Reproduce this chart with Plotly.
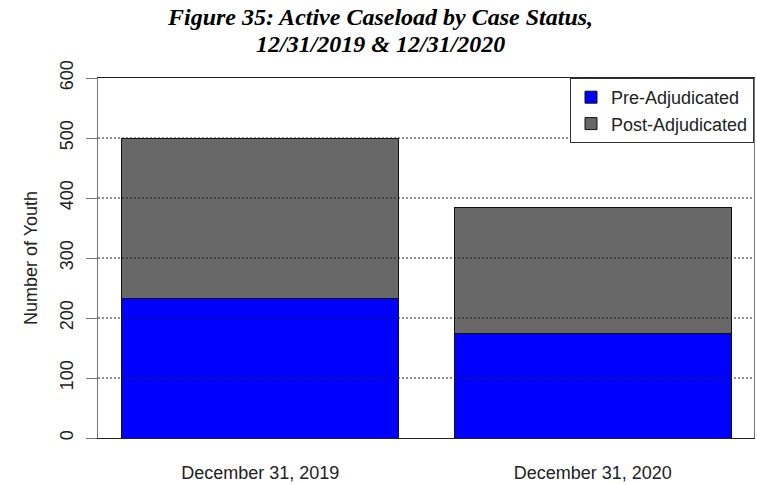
import plotly.graph_objects as go

# Active caseload counts at each year-end
dates = ["December 31, 2019", "December 31, 2020"]
pre_adjudicated = [232, 174]
post_adjudicated = [268, 211]
y_ticks = [0, 100, 200, 300, 400, 500, 600]
title_lines = ["Figure 35: Active Caseload by Case Status,", "12/31/2019 &amp; 12/31/2020"]

x_pos = list(range(len(dates)))
bar_width = 0.832

fig = go.Figure()
fig.add_trace(go.Bar(
    x=x_pos, y=pre_adjudicated, name="Pre-Adjudicated", width=bar_width,
    marker=dict(color="#0000FF", line=dict(color="#111111", width=1)),
))
fig.add_trace(go.Bar(
    x=x_pos, y=post_adjudicated, name="Post-Adjudicated", width=bar_width,
    marker=dict(color="#686868", line=dict(color="#111111", width=1)),
))

# Dotted reference lines drawn on top of the bars
for v in y_ticks[1:-1]:
    fig.add_shape(type="line", xref="paper", yref="y", x0=0, x1=1, y0=v, y1=v,
                  line=dict(color="#222222", width=1, dash="2px,2px"), layer="above")

# Two-line title in a serif bold italic face
for i, line in enumerate(title_lines):
    fig.add_annotation(
        text=line, xref="paper", yref="paper", x=0.43, y=1 + (62 - 28 * i) / 363,
        xanchor="center", yanchor="middle", showarrow=False,
        font=dict(family="Liberation Serif, Times New Roman, serif", size=24,
                  color="black", style="italic", weight="bold"),
    )

fig.update_layout(
    width=757, height=485,
    margin=dict(l=98, r=2, t=78, b=44),
    paper_bgcolor="white", plot_bgcolor="white",
    barmode="stack",
    showlegend=True,
    font=dict(family="Liberation Sans, Arial, sans-serif", size=18, color="#222222"),
    legend=dict(
        x=1, y=1, xanchor="right", yanchor="top",
        bgcolor="white", bordercolor="#333333", borderwidth=1,
        font=dict(size=18, color="#222222"), traceorder="normal",
        tracegroupgap=0, itemwidth=30,
    ),
    xaxis=dict(
        range=[-0.488, 1.485], tickmode="array", tickvals=x_pos, ticktext=dates,
        showgrid=False, zeroline=False, ticks="", showline=True, linecolor="#222222",
        linewidth=1, mirror=True, ticklabelstandoff=18,
        tickfont=dict(size=18, color="#222222"),
    ),
    yaxis=dict(
        range=[0, 600], tickmode="array", tickvals=y_ticks, tickangle=-90,
        showgrid=False, zeroline=False, ticks="outside", ticklen=11, tickcolor="#777777",
        showline=True, linecolor="#777777", linewidth=1, mirror=True,
        ticklabelstandoff=6,
        tickfont=dict(size=18, color="#222222"),
        title=dict(text="Number of Youth", standoff=14, font=dict(size=18, color="#222222")),
    ),
)

fig.write_html("out.html")
